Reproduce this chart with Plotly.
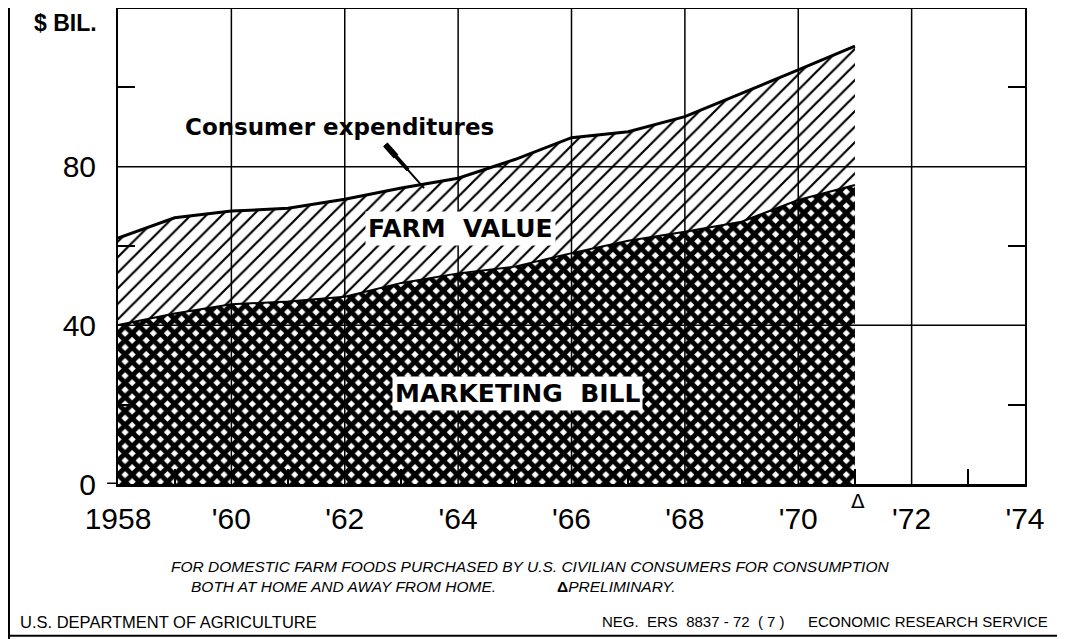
import plotly.graph_objects as go

# ---- data ----
years = [1958, 1959, 1960, 1961, 1962, 1963, 1964, 1965, 1966, 1967, 1968, 1969, 1970, 1971]
consumer_expenditures = [62.0, 67.1, 68.8, 69.5, 71.8, 74.6, 77.1, 81.8, 87.3, 88.8, 92.6, 98.4, 104.4, 110.4]
marketing_bill = [40.1, 43.0, 45.3, 46.0, 47.2, 50.7, 53.1, 54.8, 58.2, 61.3, 63.6, 66.1, 71.6, 75.4]
x_tickvals = [1958, 1960, 1962, 1964, 1966, 1968, 1970, 1972, 1974]
x_ticktext = ["1958", "'60", "'62", "'64", "'66", "'68", "'70", "'72", "'74"]
y_tickvals = [0, 40, 80]
y_ticktext = ["0", "40", "80"]
grid_x = [1960, 1962, 1964, 1966, 1968, 1970, 1972]
grid_y = [40, 80]

FONT = "Liberation Sans"

fig = go.Figure()

# Marketing bill (bottom, crosshatched)
fig.add_trace(go.Scatter(
    x=years, y=marketing_bill, mode="lines",
    line=dict(color="black", width=2),
    fill="tozeroy", fillcolor="black",
    fillpattern=dict(shape="x", fgcolor="black", bgcolor="white", fgopacity=1,
                     size=10, solidity=0.74),
    hoverinfo="skip", showlegend=False,
))
# Consumer expenditures (top, hatched farm value between)
fig.add_trace(go.Scatter(
    x=years, y=consumer_expenditures, mode="lines",
    line=dict(color="black", width=3),
    fill="tonexty", fillcolor="black",
    fillpattern=dict(shape="/", fgcolor="black", bgcolor="white", fgopacity=1,
                     size=11, solidity=0.2),
    hoverinfo="skip", showlegend=False,
))

shapes = []
for gx in grid_x:
    shapes.append(dict(type="line", xref="x", yref="y", x0=gx, x1=gx, y0=0, y1=120,
                       line=dict(color="black", width=1.5), layer="above"))
for gy in grid_y:
    shapes.append(dict(type="line", xref="x", yref="y", x0=1958, x1=1974, y0=gy, y1=gy,
                       line=dict(color="black", width=1.5), layer="above"))
# top border
shapes.append(dict(type="line", xref="x", yref="y", x0=1958, x1=1974, y0=120, y1=120,
                   line=dict(color="black", width=2), layer="above"))
# zero tick extension to the left
shapes.append(dict(type="line", xref="paper", yref="y", x0=-0.012, x1=0, y0=0, y1=0,
                   line=dict(color="black", width=3), layer="above"))
# page border lines
shapes.append(dict(type="line", xref="paper", yref="paper", x0=-0.1202, x1=-0.1202, y0=-0.33, y1=1.02,
                   line=dict(color="black", width=2)))
shapes.append(dict(type="line", xref="paper", yref="paper", x0=-0.1202, x1=1.045, y0=-0.319, y1=-0.319,
                   line=dict(color="black", width=2)))

annotations = [
    dict(text="<b>$ BIL.</b>", xref="paper", yref="paper", x=-0.0948, y=1.0,
         xanchor="left", yanchor="top", showarrow=False, font=dict(family=FONT, size=23, color="black")),
    dict(text="<b>Consumer expenditures</b>", xref="x", yref="y", x=1961.9, y=90.1,
         xanchor="center", yanchor="middle",
         showarrow=False, font=dict(family="DejaVu Sans", size=23, color="black")),
    # tapered pointer: three collinear strokes of decreasing width
    dict(text="", xref="x", yref="y", x=1963.4, y=74.6, ax=-40, ay=-45,
         showarrow=True, arrowhead=0, arrowwidth=2, arrowcolor="black"),
    dict(text="", xref="x", yref="y", x=1963.116, y=79.15, ax=-24, ay=-27,
         showarrow=True, arrowhead=0, arrowwidth=4, arrowcolor="black"),
    dict(text="", xref="x", yref="y", x=1962.904, y=82.56, ax=-12, ay=-13.5,
         showarrow=True, arrowhead=0, arrowwidth=6, arrowcolor="black"),
    dict(text="<b>FARM  VALUE</b>", xref="x", yref="y", x=1964.04, y=64.5,
         xanchor="center", yanchor="middle",
         showarrow=False, bgcolor="white", borderpad=2,
         font=dict(family="DejaVu Sans", size=25, color="black")),
    dict(text="<b>MARKETING  BILL</b>", xref="x", yref="y", x=1965.05, y=22.9,
         xanchor="center", yanchor="middle",
         showarrow=False, bgcolor="white", borderpad=2,
         font=dict(family="DejaVu Sans", size=25, color="black")),
    dict(text="Δ", xref="x", yref="paper", x=1971.05, y=-0.0357,
         xanchor="center", yanchor="middle",
         showarrow=False, font=dict(family="DejaVu Sans", size=20, color="black")),
    dict(text="<i>FOR DOMESTIC FARM FOODS PURCHASED BY U.S. CIVILIAN CONSUMERS FOR CONSUMPTION</i>",
         xref="paper", yref="paper", x=0.4542, y=-0.1723, xanchor="center", yanchor="middle",
         showarrow=False, font=dict(family=FONT, size=15.5, color="black")),
    dict(text="<i>BOTH AT HOME AND AWAY FROM HOME.</i>", xref="paper", yref="paper",
         x=0.078, y=-0.2143, xanchor="left", yanchor="middle", showarrow=False,
         font=dict(family=FONT, size=15.5, color="black")),
    dict(text="<b>Δ</b><i>PRELIMINARY.</i>", xref="paper", yref="paper",
         x=0.482, y=-0.2143, xanchor="left", yanchor="middle", showarrow=False,
         font=dict(family=FONT, size=15.5, color="black")),
    dict(text="U.S. DEPARTMENT OF AGRICULTURE", xref="paper", yref="paper",
         x=-0.110, y=-0.2899, xanchor="left", yanchor="middle", showarrow=False,
         font=dict(family=FONT, size=16.5, color="black")),
    dict(text="NEG.  ERS  8837 - 72  ( 7 )", xref="paper", yref="paper",
         x=0.531, y=-0.2899, xanchor="left", yanchor="middle", showarrow=False,
         font=dict(family=FONT, size=15, color="black")),
    dict(text="ECONOMIC RESEARCH SERVICE", xref="paper", yref="paper",
         x=1.028, y=-0.2899, xanchor="right", yanchor="middle", showarrow=False,
         font=dict(family=FONT, size=15, color="black")),
]

# the page has an 8px body margin, so the figure is sized to fit inside the window
fig.update_layout(
    width=1057, height=631,
    margin=dict(l=110, r=40, t=0, b=155),
    paper_bgcolor="white", plot_bgcolor="white",
    shapes=shapes, annotations=annotations,
    showlegend=False,
    xaxis=dict(
        range=[1958, 1974], tickvals=x_tickvals, ticktext=x_ticktext,
        showgrid=False, zeroline=False,
        showline=True, linecolor="black", linewidth=3,
        ticks="", ticklabelstandoff=6,
        minor=dict(tickvals=[1959, 1961, 1963, 1965, 1967, 1969, 1971, 1973],
                   ticks="inside", ticklen=15, tickwidth=2, tickcolor="black", showgrid=False),
        tickfont=dict(family=FONT, size=30, color="black"),
        layer="above traces", fixedrange=True,
    ),
    yaxis=dict(
        range=[0, 120], tickvals=y_tickvals, ticktext=y_ticktext,
        showgrid=False, zeroline=False,
        showline=True, linecolor="black", linewidth=2, mirror="allticks",
        ticks="", ticklabelstandoff=14,
        minor=dict(tickvals=[20, 60, 100], ticks="inside", ticklen=17, tickwidth=2,
                   tickcolor="black", showgrid=False),
        tickfont=dict(family=FONT, size=30, color="black"),
        layer="above traces", fixedrange=True,
    ),
)

fig.write_html("out.html")
